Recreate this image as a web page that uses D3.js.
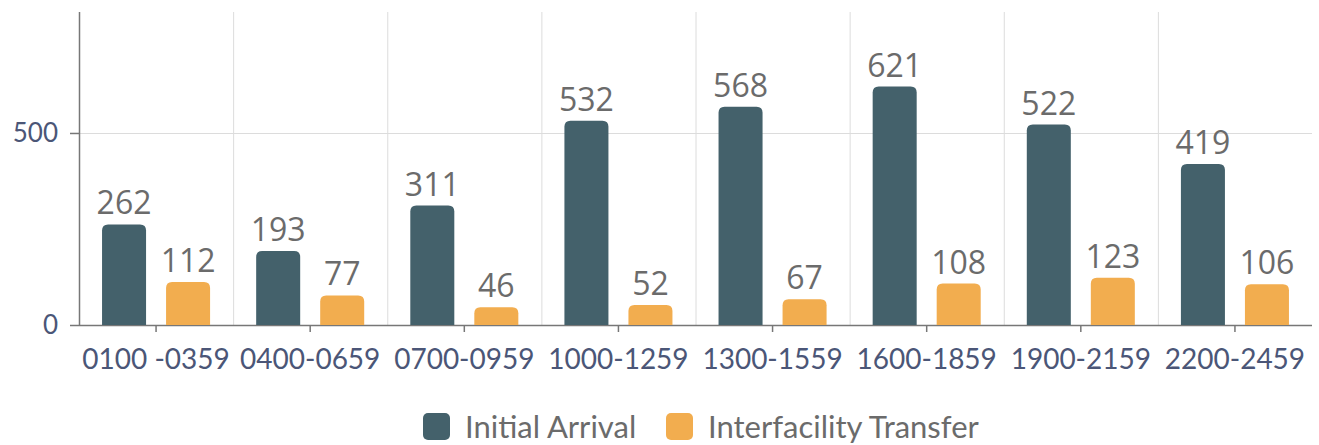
<!DOCTYPE html>
<html>
<head>
<meta charset="utf-8">
<script src="https://cdn.jsdelivr.net/npm/d3@7"></script>
<style>
  body { margin: 0; background: #fff; font-family: Lato, "Open Sans", sans-serif; }
</style>
</head>
<body>
<div id="chart"></div>
<script>
var categories = ["0100 -0359", "0400-0659", "0700-0959", "1000-1259", "1300-1559", "1600-1859", "1900-2159", "2200-2459"];
var seriesNames = ["Initial Arrival", "Interfacility Transfer"];
var initialArrival = [262, 193, 311, 532, 568, 621, 522, 419];
var interfacilityTransfer = [112, 77, 46, 52, 67, 108, 123, 106];
var yTicks = [0, 500];

var seriesColors = ["#44616b", "#f2ad4f"];

var svgWidth = 1319, svgHeight = 445;
var margin = {top: 12, left: 79, right: 7, bottom: 120};
var width = svgWidth - margin.left - margin.right;
var height = svgHeight - margin.top - margin.bottom;

var svg = d3.select("#chart").append("svg").attr("width", svgWidth).attr("height", svgHeight);
var chartGroup = svg.append("g").attr("transform", `translate(${margin.left},${margin.top})`);

var rows = categories.map(function(c, i) {
    return {cat: c, values: [initialArrival[i], interfacilityTransfer[i]]};
});

var xScale = d3.scaleBand().domain(categories).range([0, width]).padding(0);
var xSub = d3.scaleBand().domain(seriesNames).range([0, xScale.bandwidth()]).paddingInner(0.3125).paddingOuter(0.36);
var yScale = d3.scaleLinear().domain([0, 815]).range([height, 0]);

// grid
chartGroup.append("g").selectAll("line.vg").data(categories.slice(1)).enter().append("line")
    .attr("x1", d => xScale(d) + 0.5).attr("x2", d => xScale(d) + 0.5)
    .attr("y1", 0).attr("y2", height)
    .attr("stroke", "#dcdcdc").attr("stroke-width", 1);
chartGroup.append("g").selectAll("line.hg").data(yTicks.filter(d => d > 0)).enter().append("line")
    .attr("x1", 0).attr("x2", width)
    .attr("y1", d => Math.round(yScale(d)) + 0.5).attr("y2", d => Math.round(yScale(d)) + 0.5)
    .attr("stroke", "#dcdcdc").attr("stroke-width", 1);

// axes
var leftAxis = d3.axisLeft(yScale).tickValues(yTicks).tickSize(9).tickPadding(12);
var bottomAxis = d3.axisBottom(xScale).tickSize(7).tickPadding(17);

var yAxis = chartGroup.append("g").call(leftAxis);
yAxis.select(".domain").attr("stroke", "#777").attr("stroke-width", 1.5).attr("d", `M0.5,0V${height}`);
yAxis.selectAll(".tick line").attr("stroke", "#777").attr("stroke-width", 1.5);
yAxis.selectAll("text").attr("font-family", "Lato, sans-serif").attr("font-size", "26px").attr("fill", "#4b5677");

var xAxis = chartGroup.append("g").attr("transform", `translate(0,${height})`).call(bottomAxis);
xAxis.select(".domain").attr("stroke", "#777").attr("stroke-width", 1.5).attr("d", `M0,0.5H${width}`);
xAxis.selectAll(".tick line").attr("stroke", "#777").attr("stroke-width", 1.5);
xAxis.selectAll("text").attr("font-family", "Lato, sans-serif").attr("font-size", "28px").attr("fill", "#4b5677");

// bars with rounded top
function topRounded(x, y, w, h, r) {
    r = Math.min(r, h, w / 2);
    return `M${x},${y + h}V${y + r}Q${x},${y} ${x + r},${y}H${x + w - r}Q${x + w},${y} ${x + w},${y + r}V${y + h}Z`;
}

var groups = chartGroup.selectAll("g.cat").data(rows).enter().append("g")
    .attr("class", "cat")
    .attr("transform", d => `translate(${xScale(d.cat)},0)`);

groups.selectAll("path").data(d => d.values.map((v, i) => ({name: seriesNames[i], value: v, idx: i}))).enter().append("path")
    .attr("d", d => topRounded(xSub(d.name), yScale(d.value), xSub.bandwidth(), height - yScale(d.value), 6))
    .attr("fill", d => seriesColors[d.idx]);

groups.selectAll("text").data(d => d.values.map((v, i) => ({name: seriesNames[i], value: v}))).enter().append("text")
    .attr("x", d => xSub(d.name) + xSub.bandwidth() / 2)
    .attr("y", d => yScale(d.value) - 10)
    .attr("text-anchor", "middle")
    .attr("font-family", "'Open Sans', sans-serif").attr("font-size", "32px").attr("fill", "#6b6b6b")
    .text(d => d.value);

// legend
var legend = svg.append("g").attr("transform", "translate(423,413)");
var legendX = [0, 243];
seriesNames.forEach(function(name, i) {
    var item = legend.append("g").attr("transform", `translate(${legendX[i]},0)`);
    item.append("rect").attr("width", 27).attr("height", 27).attr("rx", 5).attr("fill", seriesColors[i]);
    item.append("text").attr("x", 42).attr("y", 25)
        .attr("font-family", "Lato, sans-serif").attr("font-size", "31px").attr("fill", "#6b6b6b")
        .text(name);
});
</script>
</body>
</html>
